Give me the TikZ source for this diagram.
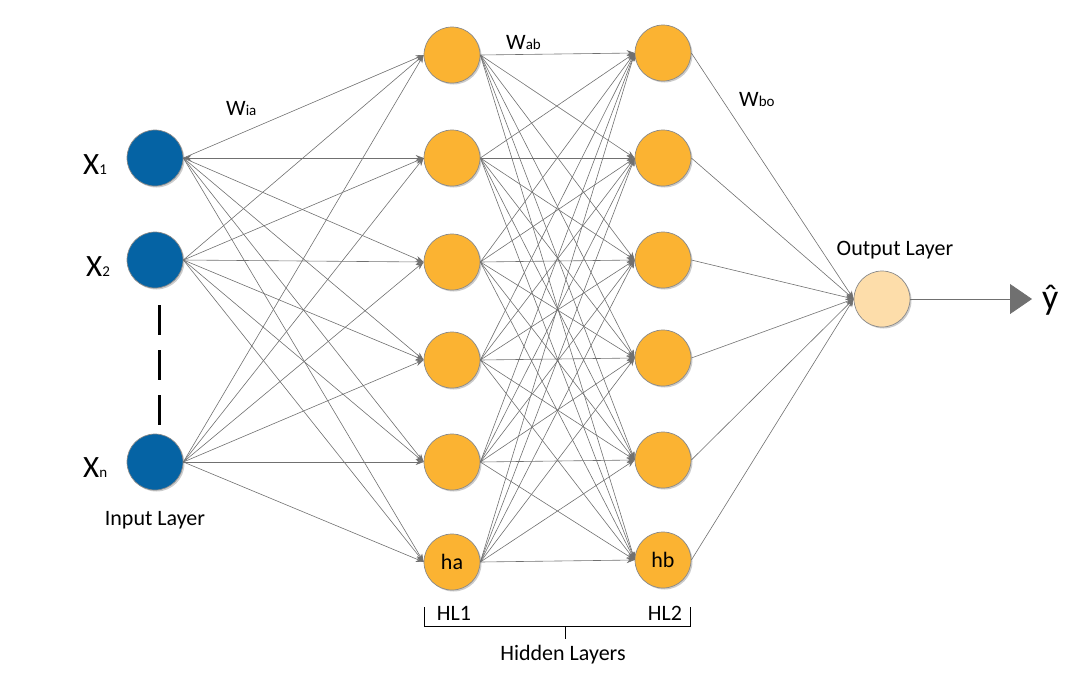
\documentclass[tikz,border=0pt]{standalone}
\usepackage{fontspec}
\setmainfont{Carlito}
\usetikzlibrary{arrows.meta,shadows}
\definecolor{inblue}{HTML}{0563A4}
\definecolor{hidorange}{HTML}{FBB332}
\definecolor{outpeach}{HTML}{FDDDAA}
\definecolor{linegray}{HTML}{707070}
\definecolor{rimgray}{HTML}{8A8A8A}
\begin{document}
\begin{tikzpicture}[x=1pt,y=-1pt,
  neuron/.style={circle,minimum size=56pt,inner sep=0pt,draw=rimgray,line width=0.7pt,
    drop shadow={shadow xshift=1.5pt,shadow yshift=-1.5pt,opacity=0.2,fill=black}},
  inp/.style={neuron,fill=inblue},
  hid/.style={neuron,fill=hidorange},
  outn/.style={neuron,fill=outpeach},
  conn/.style={draw=linegray,line width=0.6pt},
  arr/.style={conn,-{Stealth[length=8pt,width=6pt]}},
  big/.style={font=\fontsize{36}{38}\selectfont,inner sep=0pt},
  lbl/.style={font=\fontsize{22}{26}\selectfont,inner sep=0pt},
  sub/.style={font=\fontsize{15}{17}\selectfont,inner sep=0pt},
]
\useasboundingbox (0,0) rectangle (1071,673);

% input nodes
\node[inp] (i1) at (155,158) {};
\node[inp] (i2) at (155,260) {};
\node[inp] (i3) at (155,462) {};
% hidden layer 1
\foreach \k/\y in {1/55,2/158,3/262,4/360,5/462}
  \node[hid] (a\k) at (452,\y) {};
\node[hid,font=\fontsize{22}{26}\selectfont] (a6) at (452,562) {ha};
% hidden layer 2
\foreach \k/\y in {1/53,2/158,3/260,4/358,5/460}
  \node[hid] (b\k) at (663,\y) {};
\node[hid,font=\fontsize{22}{26}\selectfont] (b6) at (663,560) {hb};
% output
\node[outn] (o) at (882,299) {};

% connections
\foreach \s in {1,2,3}
  \foreach \t in {1,...,6}
    \draw[arr] (i\s.east) -- (a\t.west);
\draw[arr] (a2.west) -- (i1.east);
\foreach \s in {1,...,6}
  \foreach \t in {1,...,6}
    \draw[arr] (a\s.east) -- (b\t.west);
\foreach \s in {1,...,6}
  \draw[arr] (b\s.east) -- (o.west);
\coordinate (yend) at (1032,299);
\draw[conn,-{Triangle[length=22pt,width=30pt]},line width=0.8pt] (o.east) -- (yend);
\node[big,anchor=west] (yhat) at (1042,300) {\^{y}};

% dashes between x2 and xn
\coordinate (d1) at (159,305);
\coordinate (d2) at (159,427);
\draw[line width=3pt,dash pattern=on 30pt off 15pt] (d1) -- (d2);

% input labels
\node[anchor=base west,inner sep=0pt] (lx1) at (83,174) {\fontsize{31}{32}\selectfont X\fontsize{15}{17}\selectfont 1};
\node[anchor=base west,inner sep=0pt] (lx2) at (86,276) {\fontsize{31}{32}\selectfont X\fontsize{15}{17}\selectfont 2};
\node[anchor=base west,inner sep=0pt] (lx3) at (83,477) {\fontsize{31}{32}\selectfont X\fontsize{15}{17}\selectfont n};
\node[lbl,anchor=base] (inl) at (155,525) {Input Layer};

% weight labels
\node[anchor=base west,inner sep=0pt] (wia) at (226,115) {\fontsize{22}{26}\selectfont W\fontsize{15}{17}\selectfont ia};
\node[anchor=base west,inner sep=0pt] (wab) at (506,49) {\fontsize{22}{26}\selectfont W\fontsize{15}{17}\selectfont ab};
\node[anchor=base west,inner sep=0pt] (wbo) at (739,106) {\fontsize{22}{26}\selectfont W\fontsize{15}{17}\selectfont bo};

\node[lbl,anchor=base] (outl) at (895,255) {Output Layer};

% hidden layers bracket
\coordinate (bl) at (424,607);
\coordinate (br) at (690,607);
\coordinate (bm) at (565,626);
\draw[line width=0.8pt] (bl) -- (bl |- bm) -- (br |- bm) -- (br);
\draw[line width=0.8pt] (bm) -- ++(0,13);
\node[lbl,anchor=base] (hl1) at (454,620) {HL1};
\node[lbl,anchor=base] (hl2) at (665,620) {HL2};
\node[lbl,anchor=base] (hl) at (563,660) {Hidden Layers};
\end{tikzpicture}
\end{document}
